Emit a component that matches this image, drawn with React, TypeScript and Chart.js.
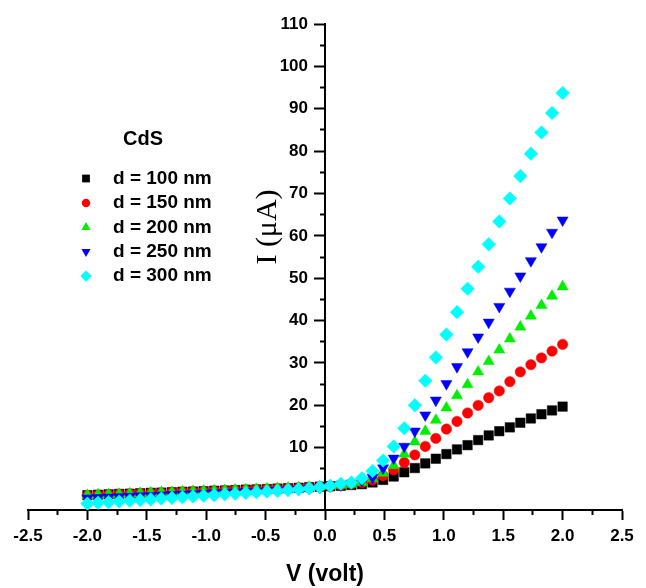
import React, { useEffect, useRef } from 'react';
import { Chart, registerables } from 'chart.js';
import { drawPoint } from 'chart.js/helpers';

Chart.register(...registerables);

// Voltage sweep (V)
const V = [
  -2.0, -1.911, -1.822, -1.733, -1.644, -1.556, -1.467, -1.378, -1.289, -1.2,
  -1.111, -1.022, -0.933, -0.844, -0.756, -0.667, -0.578, -0.489, -0.4, -0.311,
  -0.222, -0.133, -0.044, 0.044, 0.133, 0.222, 0.311, 0.4, 0.489, 0.578,
  0.667, 0.756, 0.844, 0.933, 1.022, 1.111, 1.2, 1.289, 1.378, 1.467,
  1.556, 1.644, 1.733, 1.822, 1.911, 2.0,
];

// Current (µA) per film thickness
const I_100 = [
  -1.2, -1.1, -1.0, -0.9, -0.85, -0.75, -0.65, -0.6, -0.5, -0.4,
  -0.35, -0.25, -0.15, -0.1, 0.0, 0.1, 0.15, 0.25, 0.35, 0.45,
  0.55, 0.7, 0.8, 0.9, 1.0, 1.2, 1.4, 1.8, 2.4, 3.2,
  4.2, 5.2, 6.3, 7.4, 8.5, 9.6, 10.6, 11.8, 12.9, 13.9,
  14.8, 15.9, 16.9, 17.9, 18.8, 19.7,
];
const I_150 = [
  -1.3, -1.2, -1.1, -1.0, -0.9, -0.8, -0.75, -0.65, -0.55, -0.45,
  -0.4, -0.3, -0.2, -0.1, -0.05, 0.05, 0.15, 0.2, 0.3, 0.4,
  0.5, 0.65, 0.8, 0.9, 1.1, 1.4, 1.8, 2.4, 3.4, 4.8,
  6.5, 8.3, 10.3, 12.2, 14.4, 16.2, 18.2, 20.0, 21.8, 23.4,
  25.6, 27.9, 29.6, 31.2, 32.8, 34.4,
];
const I_200 = [
  -1.2, -1.1, -1.0, -0.95, -0.85, -0.75, -0.65, -0.55, -0.5, -0.4,
  -0.3, -0.2, -0.15, -0.05, 0.05, 0.1, 0.2, 0.3, 0.4, 0.5,
  0.6, 0.7, 0.85, 1.0, 1.2, 1.4, 1.8, 2.7, 4.0, 5.8,
  8.5, 11.4, 13.9, 16.5, 19.4, 22.3, 24.9, 27.9, 30.4, 33.1,
  35.7, 38.5, 41.1, 43.6, 45.8, 48.0,
];
const I_250 = [
  -1.9, -1.8, -1.7, -1.6, -1.5, -1.4, -1.3, -1.2, -1.1, -1.0,
  -0.9, -0.8, -0.7, -0.6, -0.5, -0.4, -0.3, -0.2, -0.1, 0.05,
  0.2, 0.4, 0.6, 1.0, 1.2, 1.6, 2.2, 3.0, 5.2, 7.5,
  10.3, 13.9, 17.7, 21.2, 25.1, 29.1, 32.6, 36.1, 39.6, 43.3,
  46.9, 50.5, 54.1, 57.4, 60.8, 63.7,
];
const I_300 = [
  -3.2, -3.0, -2.85, -2.7, -2.5, -2.35, -2.2, -2.0, -1.85, -1.7,
  -1.5, -1.35, -1.2, -1.0, -0.85, -0.7, -0.5, -0.35, -0.2, 0.0,
  0.2, 0.4, 0.7, 1.0, 1.5, 1.8, 2.8, 4.5, 7.0, 10.3,
  14.6, 20.0, 25.8, 31.3, 36.7, 42.0, 47.5, 52.7, 58.0, 63.4,
  68.8, 74.1, 79.4, 84.4, 89.0, 93.7,
];

const SERIES_LABELS = ['d = 100 nm', 'd = 150 nm', 'd = 200 nm', 'd = 250 nm', 'd = 300 nm'];
const LEGEND_TITLE = 'CdS';
const X_TITLE = 'V (volt)';
const Y_TITLE = 'I (\u03bcA)';

const X_TICKS = [-2.5, -2.0, -1.5, -1.0, -0.5, 0.0, 0.5, 1.0, 1.5, 2.0, 2.5];
const X_MINOR = [-2.25, -1.75, -1.25, -0.75, -0.25, 0.25, 0.75, 1.25, 1.75, 2.25];
const Y_TICKS = [10, 20, 30, 40, 50, 60, 70, 80, 90, 100, 110];
const Y_MINOR = [5, 15, 25, 35, 45, 55, 65, 75, 85, 95, 105];
const X_MIN = -2.5;
const X_MAX = 2.5;
const Y_MIN = -4.7;
const Y_MAX = 110;

const SANS = 'Arial, "Liberation Sans", sans-serif';
const SERIF = '"Times New Roman", "Liberation Serif", serif';

const STYLES = [
  { color: '#000000', pointStyle: 'rect', radius: 6.7, rotation: 0 },
  { color: '#ff0000', pointStyle: 'circle', radius: 5.2, rotation: 0 },
  { color: '#00ee00', pointStyle: 'triangle', radius: 6.4, rotation: 0 },
  { color: '#0000ff', pointStyle: 'triangle', radius: 6.4, rotation: 180 },
  { color: '#00ffff', pointStyle: 'rectRot', radius: 6.8, rotation: 0 },
];

const SERIES = [I_100, I_150, I_200, I_250, I_300];

// Draws y tick labels beside the centred axis, the legend block and the y title
const annotationsPlugin = {
  id: 'cdsAnnotations',
  afterDraw(chart: any) {
    const ctx = chart.ctx;
    const ys = chart.scales.y;
    const xs = chart.scales.x;
    const axisX = xs.getPixelForValue(0);
    ctx.save();
    ctx.fillStyle = '#000';
    ctx.textBaseline = 'middle';
    // y tick labels
    ctx.textAlign = 'right';
    ctx.font = `bold 17px ${SANS}`;
    Y_TICKS.forEach((v) => {
      ctx.fillText(String(v), axisX - 17, ys.getPixelForValue(v));
    });
    // legend
    ctx.textAlign = 'center';
    ctx.font = `bold 20px ${SANS}`;
    ctx.fillText(LEGEND_TITLE, 143, 139);
    ctx.textAlign = 'left';
    ctx.font = `bold 19px ${SANS}`;
    SERIES_LABELS.forEach((lab, k) => {
      const y = 178.5 + k * 24.4;
      const st = STYLES[k];
      ctx.fillStyle = st.color;
      ctx.strokeStyle = st.color;
      drawPoint(ctx, { pointStyle: st.pointStyle, radius: st.radius * 0.82, rotation: st.rotation, borderWidth: 0 } as any, 86, y);
      ctx.fillStyle = '#000';
      ctx.fillText(lab, 113, y);
    });
    // y-axis title, rotated
    ctx.save();
    ctx.translate(268, 227);
    ctx.rotate(-Math.PI / 2);
    ctx.textAlign = 'center';
    ctx.font = `30px ${SERIF}`;
    ctx.fillText(Y_TITLE, 0, 0);
    ctx.restore();
    ctx.restore();
  },
};

export default function App() {
  const ref = useRef<HTMLCanvasElement | null>(null);
  useEffect(() => {
    if (!ref.current) return;
    const datasets = SERIES.map((arr, k) => ({
      label: SERIES_LABELS[k],
      data: V.map((v, i) => ({ x: v, y: arr[i] })),
      showLine: false,
      pointStyle: STYLES[k].pointStyle,
      pointRadius: STYLES[k].radius,
      pointRotation: STYLES[k].rotation,
      backgroundColor: STYLES[k].color,
      borderColor: STYLES[k].color,
      borderWidth: 0.5,
      order: 5 - k,
    }));
    const tickFont = { family: SANS, size: 17, weight: 'bold' as const };
    const chart = new Chart(ref.current, {
      type: 'scatter',
      data: { datasets },
      plugins: [annotationsPlugin],
      options: {
        animation: false,
        responsive: false,
        devicePixelRatio: 1,
        layout: { padding: { left: 28, right: 24, top: 24, bottom: 0 } },
        plugins: { legend: { display: false }, tooltip: { enabled: false } },
        scales: {
          x: {
            type: 'linear',
            position: 'bottom',
            min: X_MIN,
            max: X_MAX,
            afterBuildTicks: (s: any) => { s.ticks = X_TICKS.map((v) => ({ value: v })); },
            ticks: {
              color: '#000',
              font: tickFont,
              padding: 6,
              maxRotation: 0,
              autoSkip: false,
              callback: (v: any) => Number(v).toFixed(1),
            },
            grid: { drawOnChartArea: false, tickLength: 10, tickWidth: 2, tickColor: '#000' },
            border: { color: '#000', width: 2 },
            title: {
              display: true,
              text: X_TITLE,
              color: '#000',
              font: { family: SANS, size: 23, weight: 'bold' },
              padding: { top: 8, bottom: 0 },
            },
          },
          xMinor: {
            type: 'linear',
            axis: 'x',
            position: { y: Y_MIN } as any,
            min: X_MIN,
            max: X_MAX,
            afterBuildTicks: (s: any) => { s.ticks = X_MINOR.map((v) => ({ value: v })); },
            ticks: { display: false },
            grid: { drawOnChartArea: false, tickLength: 5, tickWidth: 2, tickColor: '#000' },
            border: { display: false },
          },
          y: {
            type: 'linear',
            position: { x: 0 } as any,
            min: Y_MIN,
            max: Y_MAX,
            afterBuildTicks: (s: any) => { s.ticks = Y_TICKS.map((v) => ({ value: v })); },
            ticks: { display: false },
            grid: { drawOnChartArea: false, tickLength: 10, tickWidth: 2, tickColor: '#000' },
            border: { color: '#000', width: 2 },
          },
          yMinor: {
            type: 'linear',
            axis: 'y',
            position: { x: 0 } as any,
            min: Y_MIN,
            max: Y_MAX,
            afterBuildTicks: (s: any) => { s.ticks = Y_MINOR.map((v) => ({ value: v })); },
            ticks: { display: false },
            grid: { drawOnChartArea: false, tickLength: 5, tickWidth: 2, tickColor: '#000' },
            border: { display: false },
          },
        },
      } as any,
    });
    return () => chart.destroy();
  }, []);
  return (
    <div style={{ position: 'absolute', left: 0, top: 0, width: 646, height: 588, background: '#fff' }}>
      <canvas ref={ref} width={646} height={588} />
    </div>
  );
}
